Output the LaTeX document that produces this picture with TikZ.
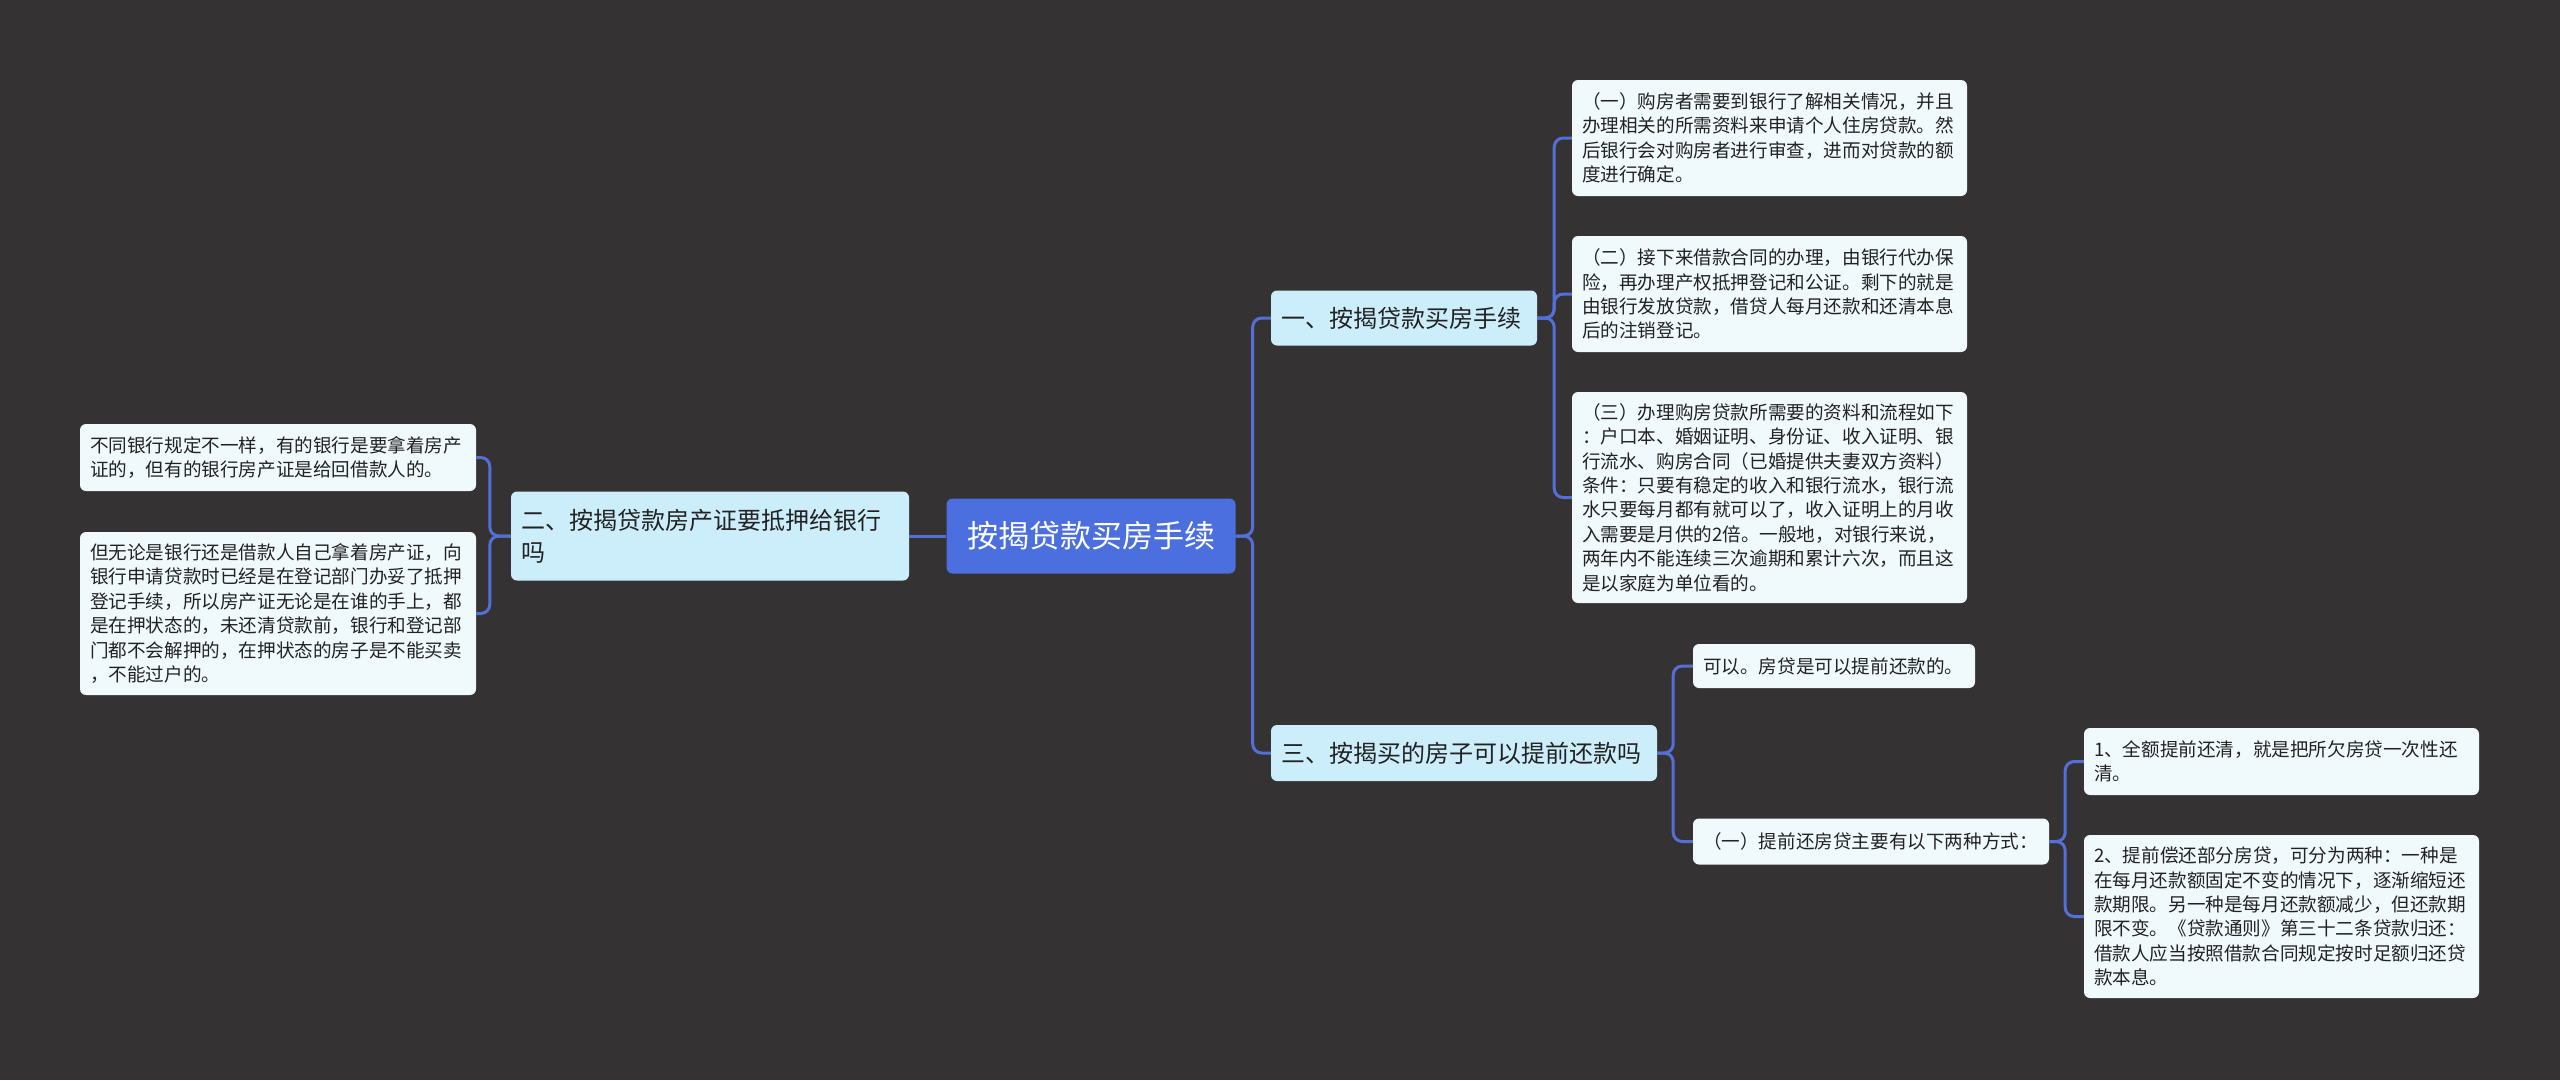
\documentclass[tikz,border=0pt]{standalone}
\usepackage{fontspec}
\newfontfamily\cjk{Noto Sans CJK SC}
\definecolor{bg}{RGB}{52,50,50}
\definecolor{rootc}{RGB}{75,111,222}
\definecolor{linec}{RGB}{84,112,216}
\definecolor{branchc}{RGB}{204,238,251}
\definecolor{leafc}{RGB}{240,250,253}
\definecolor{txt}{RGB}{34,34,34}
\tikzset{
  box/.style={rectangle, rounded corners=6pt, inner xsep=10pt, inner ysep=0pt, align=left, text=txt},
  rootbox/.style={box, fill=rootc, text=white, align=center, font=\cjk\fontsize{31}{38}\selectfont},
  branchbox/.style={box, fill=branchc, font=\cjk\fontsize{24}{32}\selectfont},
  leafbox/.style={box, fill=leafc, font=\cjk\fontsize{18.6}{24.4}\selectfont},
  conn/.style={draw=linec, line width=3pt, rounded corners=9pt},
}
\begin{document}
\begin{tikzpicture}[x=1pt,y=-1pt]
\path[use as bounding box, fill=bg] (0,0) rectangle (2560,1080);

\node[rootbox, minimum width=289pt, minimum height=75pt] (root) at (1091,536) {按揭贷款买房手续};

\node[branchbox, minimum width=266pt, minimum height=55pt, text width=246pt] (b1) at (1404,318) {一、按揭贷款买房手续};
\node[branchbox, minimum width=398pt, minimum height=89pt, text width=378pt] (b2) at (710,536) {二、按揭贷款房产证要抵押给银行\\吗};
\node[branchbox, minimum width=386pt, minimum height=56pt, text width=366pt] (b3) at (1464,753) {三、按揭买的房子可以提前还款吗};

\node[leafbox, minimum width=395pt, minimum height=116pt, text width=375pt] (c11) at (1769.5,138) {（一）购房者需要到银行了解相关情况，并且\\办理相关的所需资料来申请个人住房贷款。然\\后银行会对购房者进行审查，进而对贷款的额\\度进行确定。};
\node[leafbox, minimum width=395pt, minimum height=116pt, text width=375pt] (c12) at (1769.5,294) {（二）接下来借款合同的办理，由银行代办保\\险，再办理产权抵押登记和公证。剩下的就是\\由银行发放贷款，借贷人每月还款和还清本息\\后的注销登记。};
\node[leafbox, minimum width=395pt, minimum height=211pt, text width=375pt] (c13) at (1769.5,497.5) {（三）办理购房贷款所需要的资料和流程如下\\：户口本、婚姻证明、身份证、收入证明、银\\行流水、购房合同（已婚提供夫妻双方资料）\\条件：只要有稳定的收入和银行流水，银行流\\水只要每月都有就可以了，收入证明上的月收\\入需要是月供的2倍。一般地，对银行来说，\\两年内不能连续三次逾期和累计六次，而且这\\是以家庭为单位看的。};

\node[leafbox, minimum width=396pt, minimum height=67pt, text width=376pt] (l1) at (278,457.5) {不同银行规定不一样，有的银行是要拿着房产\\证的，但有的银行房产证是给回借款人的。};
\node[leafbox, minimum width=396pt, minimum height=163pt, text width=376pt] (l2) at (278,613.5) {但无论是银行还是借款人自己拿着房产证，向\\银行申请贷款时已经是在登记部门办妥了抵押\\登记手续，所以房产证无论是在谁的手上，都\\是在押状态的，未还清贷款前，银行和登记部\\门都不会解押的，在押状态的房子是不能买卖\\，不能过户的。};

\node[leafbox, minimum width=282pt, minimum height=44pt, text width=262pt] (c31) at (1834,666) {可以。房贷是可以提前还款的。};
\node[leafbox, minimum width=356pt, minimum height=46pt, text width=336pt] (c32) at (1871,841.5) {（一）提前还房贷主要有以下两种方式：};

\node[leafbox, minimum width=395pt, minimum height=67pt, text width=375pt] (d1) at (2281.5,761.5) {1、全额提前还清，就是把所欠房贷一次性还\\清。};
\node[leafbox, minimum width=395pt, minimum height=163pt, text width=375pt] (d2) at (2281.5,916.5) {2、提前偿还部分房贷，可分为两种：一种是\\在每月还款额固定不变的情况下，逐渐缩短还\\款期限。另一种是每月还款额减少，但还款期\\限不变。《贷款通则》第三十二条贷款归还：\\借款人应当按照借款合同规定按时足额归还贷\\款本息。};

% connectors
\draw[conn] (root.west) -- (b2.east);
\draw[conn] (root.east) -- ++(17,0) |- (b1.west);
\draw[conn] (root.east) -- ++(17,0) |- (b3.west);

\draw[conn] (b2.west) -- ++(-21,0) |- (l1.east);
\draw[conn] (b2.west) -- ++(-21,0) |- (l2.east);

\draw[conn] (b1.east) -- ++(17,0) |- (c11.west);
\draw[conn] (b1.east) -- ++(17,0) |- (c12.west);
\draw[conn] (b1.east) -- ++(17,0) |- (c13.west);

\draw[conn] (b3.east) -- ++(16,0) |- (c31.west);
\draw[conn] (b3.east) -- ++(16,0) |- (c32.west);

\draw[conn] (c32.east) -- ++(16,0) |- (d1.west);
\draw[conn] (c32.east) -- ++(16,0) |- (d2.west);
\end{tikzpicture}
\end{document}
